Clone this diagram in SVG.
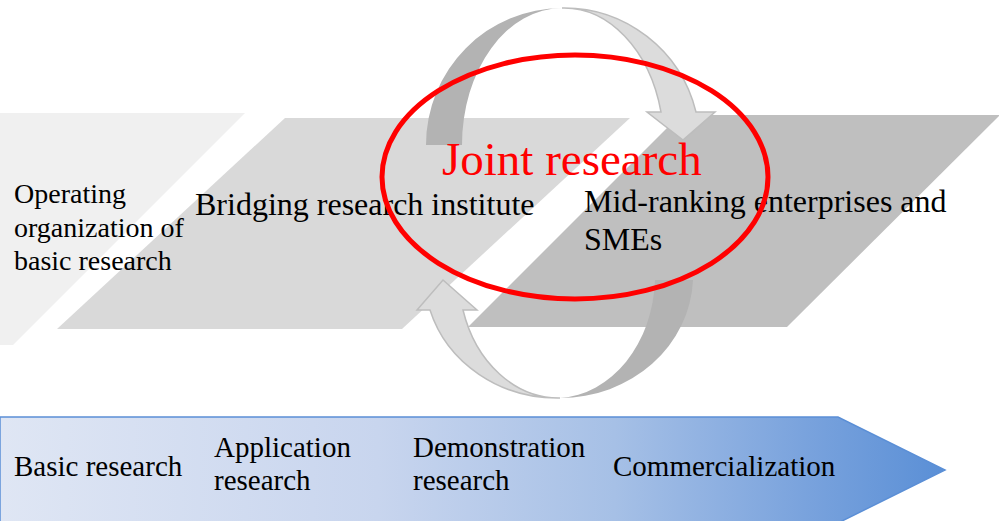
<svg xmlns="http://www.w3.org/2000/svg" width="999" height="521" viewBox="0 0 999 521">
<defs>
<linearGradient id="band" x1="0" y1="0" x2="945" y2="0" gradientUnits="userSpaceOnUse">
<stop offset="0" stop-color="#dfe6f4"/>
<stop offset="0.4" stop-color="#c8d5ee"/>
<stop offset="0.65" stop-color="#a6c0e6"/>
<stop offset="0.85" stop-color="#7aa3dd"/>
<stop offset="1" stop-color="#5a8fd6"/>
</linearGradient>
<style>
text{font-family:'Liberation Serif','Times New Roman',serif;fill:#000}
.dark{fill:#b3b3b3}
.light{fill:#dcdcdc;stroke:#bdbdbd;stroke-width:1.5;stroke-linejoin:miter}
</style>
</defs>
<g id="basic-org">
<polygon points="0,113 245,113 13,345 0,345" fill="#f0f0f0"/>
</g>
<g id="bridging">
<polygon points="285,118 630,118 402,329 57,329" fill="#d9d9d9"/>
</g>
<g id="smes">
<polygon points="680,115 1000,115 787,327 468,327" fill="#bfbfbf"/>
</g>
<g id="connectors">
<path class="dark" d="M426,145 A136,137 0 0 1 562,8 A100,137 0 0 0 462,145 Z"/>
<path class="light" d="M562,8 A136,137 0 0 1 696,112 L715,112 L683,140 L647,112 L661,112 A100,137 0 0 0 562,8 Z"/>
<path class="dark" d="M560,398 A133,123 0 0 0 693,280 L655,280 A100,123 0 0 1 560,398 Z"/>
<path class="light" d="M560,398 A133,123 0 0 1 430,310 L417,310 L443,280 L477,310 L463,310 A100,123 0 0 0 560,398 Z"/>
</g>
<g id="basic-org-label">
<text font-family="Liberation Serif, serif" font-size="28"><tspan x="14" y="203">Operating</tspan><tspan x="14" y="237">organization of</tspan><tspan x="14" y="270">basic research</tspan></text>
</g>
<g id="bridging-label">
<text font-family="Liberation Serif, serif" x="195" y="215" font-size="32">Bridging research institute</text>
</g>
<g id="smes-label">
<text font-family="Liberation Serif, serif" font-size="32"><tspan x="584" y="212">Mid-ranking enterprises and</tspan><tspan x="584" y="250">SMEs</tspan></text>
</g>
<g id="joint">
<ellipse cx="575" cy="177" rx="193" ry="122" fill="none" stroke="#ff0000" stroke-width="5"/>
<text font-family="Liberation Serif, serif" x="442" y="175" font-size="47" style="fill:#ff0000">Joint research</text>
</g>
<g id="process">
<path d="M0,417 L838,417 L945,470 L838,523 L0,523 Z" fill="url(#band)" stroke="#5b8fd6" stroke-width="1.5"/>
<text font-family="Liberation Serif, serif" x="14" y="476" font-size="29">Basic research</text>
<text font-family="Liberation Serif, serif" font-size="29"><tspan x="214" y="457">Application</tspan><tspan x="214" y="490">research</tspan></text>
<text font-family="Liberation Serif, serif" font-size="29"><tspan x="413" y="457">Demonstration</tspan><tspan x="413" y="490">research</tspan></text>
<text font-family="Liberation Serif, serif" x="613" y="476" font-size="29">Commercialization</text>
</g>
</svg>
